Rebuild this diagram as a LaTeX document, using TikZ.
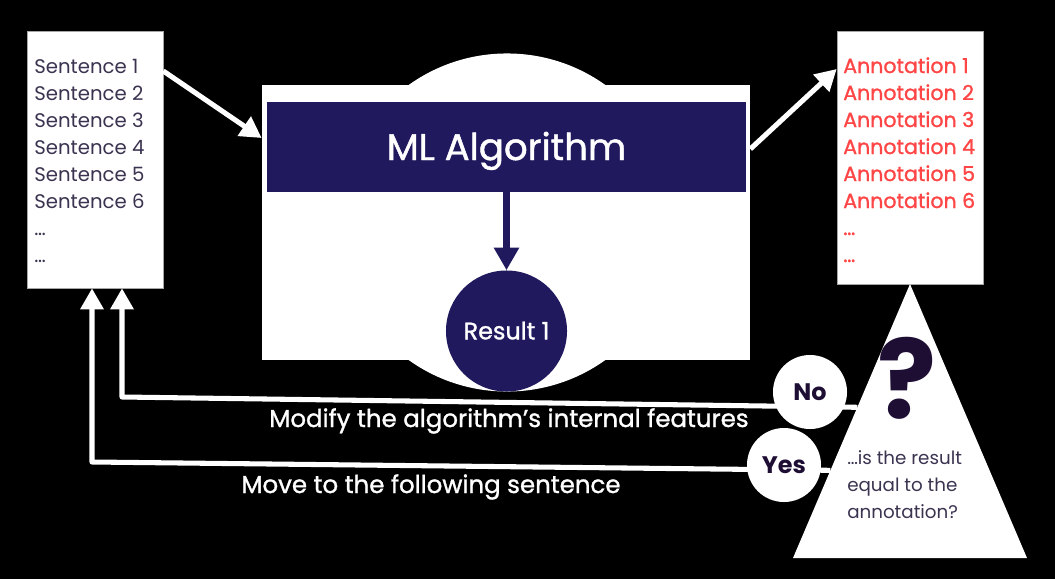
\documentclass[tikz,border=0pt]{standalone}
\usepackage{fontspec}
\setmainfont{Poppins}
\newfontfamily\medfont{Poppins}[FakeBold=1.2]
\usepackage{tikz}
\usetikzlibrary{arrows.meta}
\usetikzlibrary{positioning}
\usetikzlibrary{calc}
\definecolor{algoblue}{HTML}{20195E}
\definecolor{sentgray}{HTML}{3B3350}
\definecolor{annotred}{HTML}{FF4646}
\definecolor{qpurple}{HTML}{1E0E34}
\tikzset{listbox/.style = {fill=white, draw=gray!70, line width=0.4pt, inner sep=0}}
\tikzset{flow/.style = {white, line width=3.6pt, line join=round}}
\tikzset{bigtip/.style = {-{Triangle[length=15pt, width=16pt]}}}
\tikzset{bubble/.style = {circle, fill=white, inner sep=0, minimum size=1.85cm,
                          text=qpurple, font=\fontsize{17}{17}\selectfont\bfseries,
                          text height=11.9pt, text depth=0pt}}
\tikzset{sentline/.style = {anchor=base west, inner sep=0, text=sentgray,
                            font=\fontsize{14}{14}\selectfont}}
\tikzset{annotline/.style = {anchor=base west, inner sep=0, text=annotred,
                             font=\fontsize{14.6}{14.6}\medfont}}
\tikzset{captext/.style = {anchor=base, inner sep=0, text=white,
                           font=\fontsize{17.4}{17.4}\medfont}}

\begin{document}
\begin{tikzpicture}[x=0.025cm, y=-0.025cm]
    \fill [black] (0, 0) rectangle (1055, 579);
    \useasboundingbox (0, 0) rectangle (1055, 579);

    % algorithm block
    \node [circle, fill=white, inner sep=0, minimum size=8.45cm] (halo) at (507, 222.5) {};
    \node [fill=white, inner sep=0, minimum width=12.2cm, minimum height=6.875cm] (frame) at (506, 222.5) {};
    \node [fill=algoblue, text=white, inner sep=0, minimum width=11.95cm, minimum height=2.25cm,
           font=\fontsize{26.4}{26.4}\medfont, text height=18.5pt, text depth=0pt] (algo) at (506.5, 147) {ML Algorithm};
    \node [circle, fill=algoblue, text=white, inner sep=0, minimum size=3.025cm,
           font=\fontsize{17}{17}\medfont, text height=11.9pt, text depth=0pt] (res) at (506.5, 331) {Result 1};
    \draw [algoblue, line width=5pt, -{Triangle[length=16pt, width=17pt]}] (algo) -- (res);

    % input and annotation lists
    \node [listbox, minimum width=3.4cm, minimum height=6.425cm] (sent) at (95, 159.5) {};
    \foreach \i in {1,...,6}
      \node [sentline] (s\i) at (34, {46+27*\i}) {Sentence \i};
    \node [sentline] (s7) at (34, 235) {…};
    \node [sentline] (s8) at (34, 262) {…};

    \node [listbox, minimum width=3.65cm, minimum height=6.325cm] (annot) at (910, 157.5) {};
    \foreach \i in {1,...,6}
      \node [annotline] (a\i) at (843, {46+27*\i}) {Annotation \i};
    \node [annotline] (a7) at (843, 235) {…};
    \node [annotline] (a8) at (843, 262) {…};

    \draw [flow, bigtip] (sent.east |- 0,71) -- (frame.west |- 0,138);
    \draw [flow, bigtip] (frame.east |- 0,149) -- (annot.west |- 0,69);

    % comparison and feedback
    \coordinate (qtop) at (910, 284);
    \coordinate (qright) at (1027, 558);
    \coordinate (qleft) at (793, 558);
    \coordinate (nocorner) at (122, 397);
    \coordinate (yescorner) at (92, 462);

    \draw [flow, bigtip] ($(qtop)!0.45!(qleft)$) -- (nocorner) -- (sent.south -| nocorner);
    \draw [flow, bigtip] ($(qtop)!0.68!(qleft)$) -- (yescorner) -- (sent.south -| yescorner);

    \fill [white] (qtop) -- (qright) -- (qleft) -- cycle;
    \node [anchor=base, inner sep=0, text=qpurple, font=\fontsize{78}{78}\selectfont\bfseries,
           text height=56pt, text depth=0pt] (qmark) at (907, 418) {?};
    \foreach \t [count=\i] in {…is the result, equal to the, annotation?}
      \node [anchor=base west, inner sep=0, text=sentgray, font=\fontsize{13}{13}\selectfont] (q\i) at (847, {437+27*\i}) {\t};

    \node [bubble] (nobub) at (810, 392) {No};
    \node [bubble] (yesbub) at (784, 465) {Yes};

    \node [captext] (modify) at (509, 427) {Modify the algorithm’s internal features};
    \node [captext] (move) at (431, 493) {Move to the following sentence};
\end{tikzpicture}
\end{document}
